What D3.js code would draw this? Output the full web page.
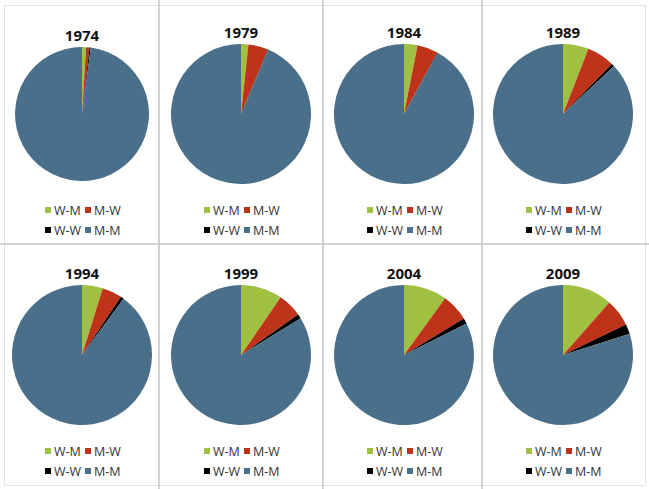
<!DOCTYPE html>
<html>
<head>
<meta charset="utf-8">
<script src="https://cdn.jsdelivr.net/npm/d3@7"></script>
<style>
  body { margin: 0; background: #fff; }
  svg { display: block; font-family: "Open Sans", "Liberation Sans", sans-serif; }
</style>
</head>
<body>
<div id="chart"></div>
<script>
var width = 649
var height = 489

// Data (percent of marriages)
var years = ["1974", "1979", "1984", "1989", "1994", "1999", "2004", "2009"]
var categories = ["W-M", "M-W", "W-W", "M-M"]
var wm = [1.0, 1.7, 3.1, 5.9, 4.8, 9.6, 10.0, 11.5]
var mw = [0.8, 4.6, 4.8, 6.4, 4.6, 5.6, 6.3, 6.3]
var ww = [0.3, 0.1, 0.1, 0.7, 0.7, 1.0, 1.3, 2.3]
var mm = [97.9, 93.6, 92.0, 87.0, 89.9, 83.8, 82.4, 79.9]

var colors = d3.scaleOrdinal()
    .domain(categories)
    .range(["#a0c040", "#c0331b", "#000000", "#4a6f8a"])

// panel layout
var colX = [82, 241, 404, 563]
var rowY = [114, 355]
var radius = 70

var svg = d3.select("#chart")
    .append("svg")
    .attr("width", width)
    .attr("height", height)

// panel frame
svg.append("rect")
    .attr("x", 4.5).attr("y", 5.5)
    .attr("width", 641).attr("height", 480)
    .attr("fill", "none")
    .attr("stroke", "#e3e3e3")

var vLines = [159, 323, 482]
svg.selectAll(".vline")
    .data(vLines)
    .enter()
    .append("line")
    .attr("class", "vline")
    .attr("x1", function(d) { return d })
    .attr("x2", function(d) { return d })
    .attr("y1", 0)
    .attr("y2", height)
    .attr("stroke", "#c4c4c4")
    .attr("stroke-width", 1.5)

svg.append("line")
    .attr("x1", 0).attr("x2", width)
    .attr("y1", 244).attr("y2", 244)
    .attr("stroke", "#c4c4c4")
    .attr("stroke-width", 1.5)

var pie = d3.pie()
    .sort(null)
    .value(function(d) { return d.value })

years.forEach(function(year, i) {
    var cx = colX[i % 4]
    var cy = rowY[Math.floor(i / 4)]
    var r = (i == 0) ? 67 : radius
    var values = [wm[i], mw[i], ww[i], mm[i]].map(function(v, k) {
        return {cat: categories[k], value: v}
    })

    var arc = d3.arc().innerRadius(0).outerRadius(r)

    var g = svg.append("g")
        .attr("transform", "translate(" + cx + "," + cy + ")")

    g.selectAll("path")
        .data(pie(values))
        .enter()
        .append("path")
        .attr("d", arc)
        .attr("fill", function(d) { return colors(d.data.cat) })

    // title
    g.append("text")
        .attr("x", 0)
        .attr("y", -r - 6)
        .attr("text-anchor", "middle")
        .style("font-size", "15px")
        .style("font-weight", "bold")
        .style("fill", "#111")
        .text(year)

    // legend
    var leg = g.append("g")
        .attr("transform", "translate(0," + (96) + ")")

    leg.selectAll("g")
        .data(categories)
        .enter()
        .append("g")
        .attr("transform", function(d, k) {
            return "translate(" + ((k % 2) * 40 - 37) + "," + (Math.floor(k / 2) * 20) + ")"
        })
        .each(function(d) {
            var item = d3.select(this)
            item.append("rect")
                .attr("x", 0).attr("y", -3)
                .attr("width", 6).attr("height", 6)
                .attr("fill", colors(d))
            item.append("text")
                .attr("x", 9)
                .attr("y", 0)
                .attr("dy", "0.36em")
                .style("font-size", "12.5px")
                .style("fill", "#333")
                .text(d)
        })
})
</script>
</body>
</html>
